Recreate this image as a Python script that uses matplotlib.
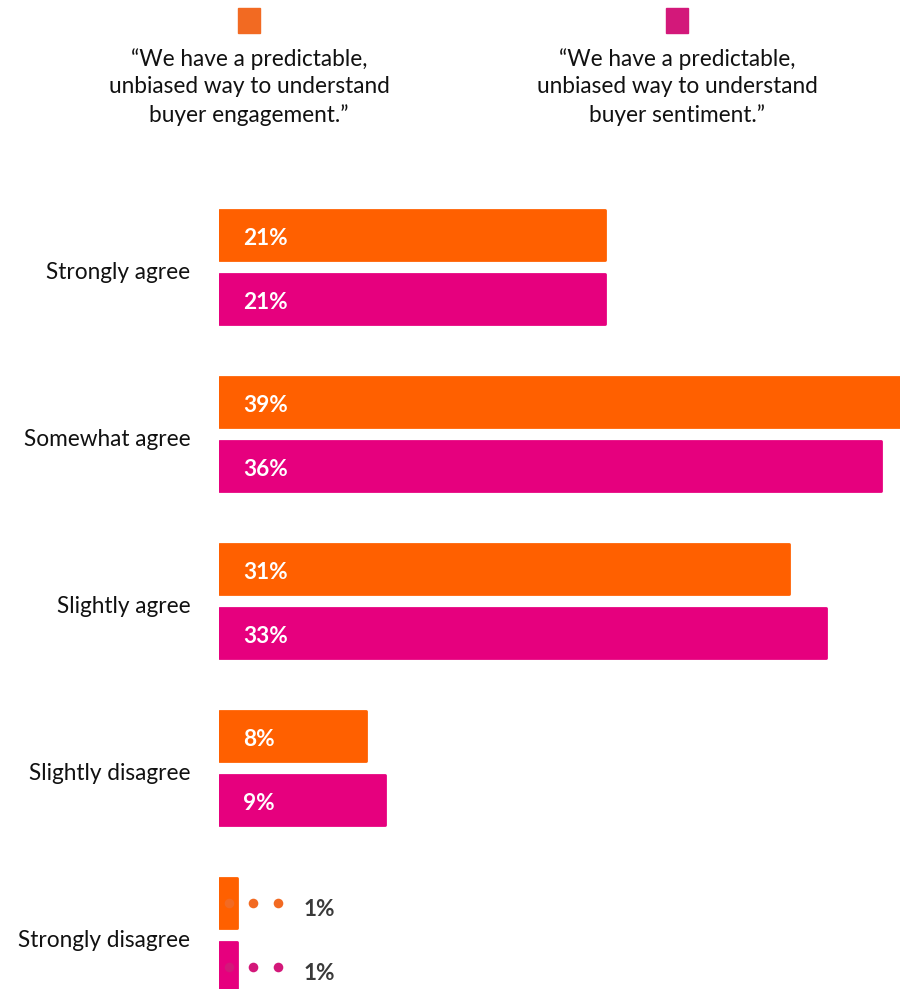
import matplotlib.pyplot as plt
from matplotlib.patches import Rectangle

plt.rcParams['font.family'] = ['Lato', 'DejaVu Sans']

categories = ['Strongly agree', 'Somewhat agree', 'Slightly agree',
              'Slightly disagree', 'Strongly disagree']
engagement = [21, 39, 31, 8, 1]
sentiment = [21, 36, 33, 9, 1]
series_labels = ['\u201cWe have a predictable,\nunbiased way to understand\nbuyer engagement.\u201d',
                 '\u201cWe have a predictable,\nunbiased way to understand\nbuyer sentiment.\u201d']

ORANGE = '#FF6000'
PINK = '#E6007E'
ORANGE_KEY = '#F26A22'
PINK_KEY = '#D3187A'

W, H = 900, 989
fig = plt.figure(figsize=(W / 100, H / 100), dpi=100)

# axes spans from bar start to right edge, from below the legend to the bottom
ax = fig.add_axes([219 / W, 0, 1 - 219 / W, (H - 200) / H])
ax.set_xlim(0, 681 / 18.39)
ax.set_ylim((989 - 267) / 167, (200 - 267) / 167)
ax.axis('off')

FS = 16.3
ys = list(range(len(categories)))
off, h = 0.1916, 0.305
for vals, col, dy in [(engagement, ORANGE, -off), (sentiment, PINK, off)]:
    yy = [y + dy for y in ys]
    ax.barh(yy, vals, height=h, color=col, edgecolor=col, linewidth=2,
            joinstyle='round', left=0)
    for y, v in zip(yy, vals):
        if v >= 5:
            ax.text(1.3, y + 0.01, f'{v}%', color='white', fontsize=FS,
                    fontweight='bold', va='center_baseline', ha='left')
        else:
            dot = ORANGE_KEY if col == ORANGE else PINK_KEY
            ax.scatter([v * 0.55, v + 0.85, v + 2.2], [y] * 3, s=48,
                       color=dot, zorder=3, linewidths=0)
            ax.text(v + 3.6, y + 0.027, f'{v}%', color='#3a3a3a', fontsize=FS,
                    fontweight='bold', va='center_baseline', ha='left')

for y, c in zip(ys, categories):
    ax.text(-1.55, y + 0.02, c, fontsize=FS, color='#111111',
            va='center_baseline', ha='right')

# legend keys and quoted statements
for cx, col, lab in [(249, ORANGE_KEY, series_labels[0]),
                     (677, PINK_KEY, series_labels[1])]:
    fig.patches.append(Rectangle(((cx - 11) / W, 1 - 33 / H), 22 / W, 25 / H,
                                 transform=fig.transFigure, color=col))
    fig.text(cx / W, 1 - 87 / H, lab, fontsize=FS, color='#111111',
             ha='center', va='center', linespacing=1.4)

fig.savefig('out.png', dpi=100)
